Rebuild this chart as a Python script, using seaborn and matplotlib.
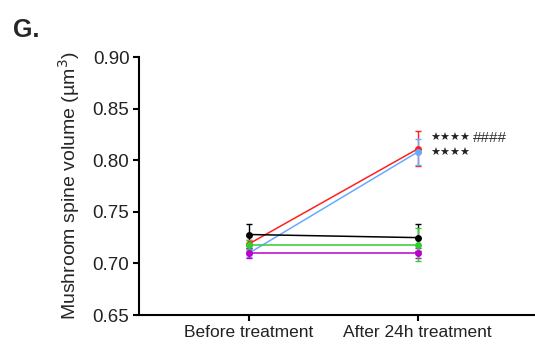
import matplotlib
matplotlib.use("Agg")
import matplotlib.pyplot as plt
import numpy as np
import pandas as pd
import seaborn as sns

# values
timepoints = ["Before treatment", "After 24h treatment"]
groups = ["black", "red", "blue", "green", "magenta"]
colors = {"black": "#000000", "red": "#ff2020", "blue": "#66aaff",
          "green": "#33cc33", "magenta": "#bb00cc"}
black_mean = [0.728, 0.725]
black_sem = [0.010, 0.013]
red_mean = [0.719, 0.811]
red_sem = [0.004, 0.017]
blue_mean = [0.710, 0.808]
blue_sem = [0.004, 0.013]
green_mean = [0.718, 0.718]
green_sem = [0.005, 0.016]
magenta_mean = [0.710, 0.710]
magenta_sem = [0.005, 0.005]

means = {"black": black_mean, "red": red_mean, "blue": blue_mean,
         "green": green_mean, "magenta": magenta_mean}
sems = {"black": black_sem, "red": red_sem, "blue": blue_sem,
        "green": green_sem, "magenta": magenta_sem}

df = pd.DataFrame([
    {"group": g, "x": i, "time": t, "mean": means[g][i], "sem": sems[g][i]}
    for g in groups for i, t in enumerate(timepoints)
])

sns.set_style("white")
plt.rcParams["font.family"] = ["Liberation Sans", "DejaVu Sans"]

fig = plt.figure(figsize=(5.35, 3.5), dpi=100)
ax = fig.add_axes([0.26, 0.1, 0.74, 0.737])

draw_order = ["red", "blue", "black", "magenta", "green"]
for g in draw_order:
    sub = df[df["group"] == g]
    ax.errorbar(sub["x"], sub["mean"], yerr=sub["sem"], fmt="none",
                ecolor=colors[g], elinewidth=1, capsize=2.5, capthick=1, zorder=2)
sns.lineplot(data=df, x="x", y="mean", hue="group", hue_order=draw_order,
             palette=colors, marker="o", markersize=5, markeredgewidth=0,
             linewidth=1.1, legend=False, ax=ax, zorder=3)

star_kw = dict(fontsize=8, va="center", ha="left", color="#222222",
               family="DejaVu Sans")
ax.text(1.073, 0.8215, "★★★★", **star_kw)
ax.text(1.073, 0.807, "★★★★", **star_kw)
ax.text(1.328, 0.8215, "####", fontsize=11, va="center", ha="left", color="#333333")

ax.set_xlim(-0.652, 1.695)
ax.set_ylim(0.65, 0.90)
ax.set_xticks([0, 1])
ax.set_xticklabels(timepoints, fontsize=12.5, color="#222222")
ax.set_yticks(np.arange(0.65, 0.901, 0.05))
ax.set_yticklabels([f"{v:.2f}" for v in np.arange(0.65, 0.901, 0.05)],
                   fontsize=13.5, color="#222222")
ax.set_xlabel("")
ax.set_ylabel("Mushroom spine volume (µm$^3$)", fontsize=14, labelpad=8)
ax.tick_params(axis="both", direction="out", length=4, width=1.5, color="black",
               left=True, bottom=True, pad=3)
sns.despine(ax=ax)
for s in ["left", "bottom"]:
    ax.spines[s].set_linewidth(1.5)
    ax.spines[s].set_color("black")

fig.text(0.025, 0.895, "G.", fontsize=18, fontweight="bold")

fig.savefig("out.png", dpi=100)
